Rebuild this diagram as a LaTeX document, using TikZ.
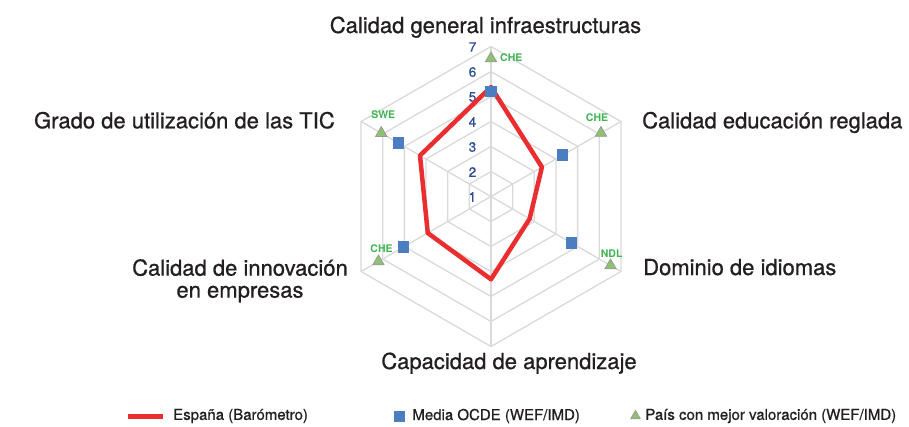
\documentclass[tikz,border=0pt]{standalone}
\usepackage{fontspec}
\setmainfont{TeX Gyre Heros}
\newfontfamily\medfont[FakeBold=0.8]{TeX Gyre Heros}
\usetikzlibrary{shapes.geometric,positioning}

\definecolor{gridgray}{RGB}{217,217,217}
\definecolor{espred}{RGB}{234,45,46}
\definecolor{ocdeblue}{RGB}{74,126,192}
\definecolor{bestgreen}{RGB}{141,194,110}
\definecolor{bestlabel}{RGB}{60,180,80}
\definecolor{scaleblue}{RGB}{44,76,148}
\definecolor{labeltext}{RGB}{35,31,32}

\tikzset{
  axislabel/.style={font=\medfont\fontsize{22}{22}\selectfont, text=labeltext, inner sep=0pt},
  scalenum/.style={font=\medfont\fontsize{13.5}{13.5}\selectfont, text=scaleblue, inner sep=0pt},
  ocde/.style={rectangle, fill=ocdeblue, minimum size=11.5pt, inner sep=0pt},
  best/.style={regular polygon, regular polygon sides=3, fill=bestgreen,
    draw=gray!80, line width=0.8pt, minimum size=13pt, inner sep=0pt},
  bestlbl/.style={font=\bfseries\fontsize{10.5}{10.5}\selectfont, text=bestlabel, inner sep=0pt},
  legtext/.style={font=\medfont\fontsize{15}{15}\selectfont, text=labeltext, inner sep=0pt},
}

\begin{document}
\begin{tikzpicture}[x=1pt,y=1pt]
      \useasboundingbox (-491,-229.5) rectangle (418,196.5);
      % rings and spokes
      \foreach \r in {25,50,...,150}
            \draw[gridgray, line width=1.3pt]
                  (90:\r) -- (30:\r) -- (-30:\r) -- (-90:\r) -- (210:\r) -- (150:\r) -- cycle;
      \foreach \a in {90,150,...,390}
            \draw[gridgray, line width=1.3pt] (0,0) -- (\a:150);
      \foreach \v in {1,...,7}
            \node[scalenum] (num\v) at (-18.5,{(\v-1)*25-0.5}) {\v};
      % Espana
      \draw[espred, line width=4.5pt, line join=round]
            ( 90:109.5) --
            ( 30:58.8) --
            (-30:44.6) --
            (-90:82.8) --
            (210:73) --
            (150:82) --
            cycle;
      % media OCDE
      \node[ocde] (ocde1) at ( 90:104.8) {};
      \node[ocde] (ocde2) at ( 30:82.6) {};
      \node[ocde] (ocde3) at (-30:92.7) {};
      \node[ocde] (ocde5) at (210:101) {};
      \node[ocde] (ocde6) at (150:107) {};
      % mejor valoracion
      \node[best] (best1) at ( 90:138) {};
      \node[best] (best2) at ( 30:127) {};
      \node[best] (best3) at (-30:138) {};
      \node[best] (best5) at (210:130) {};
      \node[best] (best6) at (150:126.7) {};
      \node[bestlbl, anchor=west] (che1) at (9,138.8) {CHE};
      \node[bestlbl] (che2) at (106,78.8) {CHE};
      \node[bestlbl] (ndl3) at (120.7,-56.8) {NDL};
      \node[bestlbl] (che5) at (-109.5,-52.5) {CHE};
      \node[bestlbl] (swe6) at (-107.7,82) {SWE};
      % ejes
      \node[axislabel, anchor=base] (infra) at (-5.5,163.5) {Calidad general infraestructuras};
      \node[axislabel, anchor=base west] (educ) at (151,68.2) {Calidad educación reglada};
      \node[axislabel, anchor=base west] (idiomas) at (152,-78.5) {Dominio de idiomas};
      \node[axislabel, anchor=base] (aprend) at (18,-172.5) {Capacidad de aprendizaje};
      \node[axislabel, anchor=north, align=center] (innov) at (-251,-62.5)
            {Calidad de innovación\\en empresas};
      \node[axislabel, anchor=base east] (tic) at (-156,68.2) {Grado de utilización de las TIC};
      % leyenda
      \coordinate (esp a) at (-363,-219.5);
      \coordinate (esp b) at (-328,-219.5);
      \draw[espred, line width=5pt] (esp a) -- (esp b);
      \node[legtext, right=10pt of esp b] (legesp) {España (Barómetro)};
      \node[ocde, minimum size=11pt] (legocde) at (-91.5,-219.5) {};
      \node[legtext, right=7pt of legocde] (legocdetxt) {Media OCDE (WEF/IMD)};
      \node[best, minimum size=11pt] (legbest) at (144.5,-219.5) {};
      \node[legtext, right=6pt of legbest] (legbesttxt) {País con mejor valoración (WEF/IMD)};
\end{tikzpicture}
\end{document}
